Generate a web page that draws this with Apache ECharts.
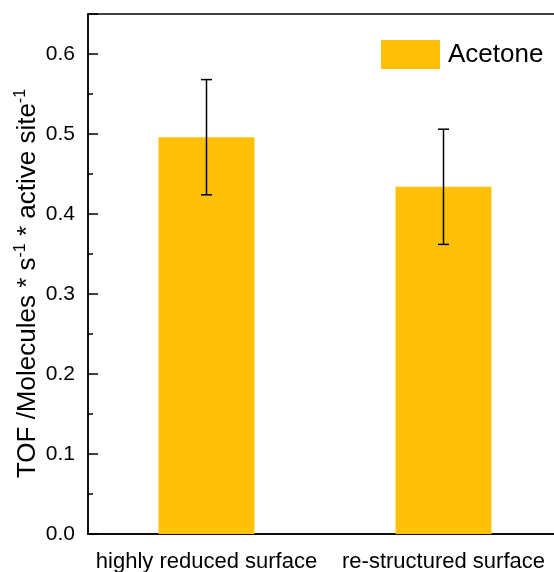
<!DOCTYPE html>
<html><head><meta charset="utf-8">
<script src="https://cdn.jsdelivr.net/npm/echarts@6/dist/echarts.min.js"></script>
<style>html,body{margin:0;padding:0;background:#fff}#c{width:554px;height:572px}</style>
</head><body><div id="c"></div>
<script>
const categories = ['highly reduced surface', 're-structured surface'];
const seriesName = 'Acetone';
const tofValues = [0.496, 0.434];
const tofErrors = [0.072, 0.072];
const yTicks = [0, 0.1, 0.2, 0.3, 0.4, 0.5, 0.6];

const FONT = 'Liberation Sans, Arial, Helvetica, sans-serif';
const chart = echarts.init(document.getElementById('c'), null, {renderer: 'canvas'});
const errData = categories.map((c, i) => [i, tofValues[i] - tofErrors[i], tofValues[i] + tofErrors[i]]);

chart.setOption({
  animation: false,
  backgroundColor: '#fff',
  textStyle: {fontFamily: FONT},
  grid: {left: 88, top: 14, width: 474, height: 520, show: true, borderColor: '#000', borderWidth: 1.5,
    backgroundColor: 'transparent', containLabel: false, outerBoundsMode: 'none'},
  legend: {
    left: 381, top: 40, padding: 0, itemWidth: 59, itemHeight: 29, icon: 'rect',
    data: [seriesName],
    textStyle: {fontSize: 26, color: '#000', fontFamily: FONT, padding: [0, 0, 0, 3]}
  },
  xAxis: {
    type: 'category', data: categories,
    axisLine: {lineStyle: {color: '#000', width: 1.5}},
    axisTick: {alignWithLabel: true, length: 10, lineStyle: {color: '#000', width: 1.5}},
    axisLabel: {fontSize: 22, color: '#000', margin: 17, interval: 0, hideOverlap: false, fontFamily: FONT},
    splitLine: {show: false}
  },
  yAxis: [{
    type: 'value', min: 0, max: 0.65, interval: 0.1,
    name: 'TOF /Molecules * s{sup|-1} * active site{sup|-1}',
    nameLocation: 'middle', nameGap: 45, nameRotate: 90, nameMoveOverlap: false,
    nameTextStyle: {fontSize: 26, color: '#000', fontFamily: FONT, lineHeight: 30, padding: [0, 19, 0, 0],
      rich: {sup: {fontSize: 16, color: '#000', verticalAlign: 'top', fontFamily: FONT, lineHeight: 30}}},
    axisLine: {show: true, lineStyle: {color: '#000', width: 1.5}},
    axisTick: {show: true, inside: true, length: 10, lineStyle: {color: '#000', width: 1.5}},
    axisLabel: {fontSize: 21, color: '#000', margin: 13, fontFamily: FONT,
      formatter: v => yTicks.some(t => Math.abs(t - v) < 1e-9) ? v.toFixed(1) : ''},
    splitLine: {show: false}
  }, {
    type: 'value', min: 0, max: 0.65, interval: 0.05, position: 'left',
    axisLine: {show: false},
    axisTick: {show: true, inside: true, length: 5, lineStyle: {color: '#000', width: 1.5}},
    axisLabel: {show: false},
    splitLine: {show: false}
  }],
  series: [{
    name: seriesName, type: 'bar', data: tofValues, barWidth: 96,
    itemStyle: {color: '#FFC107'}
  }, {
    type: 'custom', data: errData, z: 10,
    renderItem: function (params, api) {
      const x = api.value(0);
      const lo = api.coord([x, api.value(1)]);
      const hi = api.coord([x, api.value(2)]);
      const hw = 5.5;
      const st = {stroke: '#000', lineWidth: 1.5};
      return {type: 'group', children: [
        {type: 'line', shape: {x1: lo[0], y1: lo[1], x2: hi[0], y2: hi[1]}, style: st},
        {type: 'line', shape: {x1: hi[0] - hw, y1: hi[1], x2: hi[0] + hw, y2: hi[1]}, style: st},
        {type: 'line', shape: {x1: lo[0] - hw, y1: lo[1], x2: lo[0] + hw, y2: lo[1]}, style: st}
      ]};
    }
  }]
});
</script></body></html>
